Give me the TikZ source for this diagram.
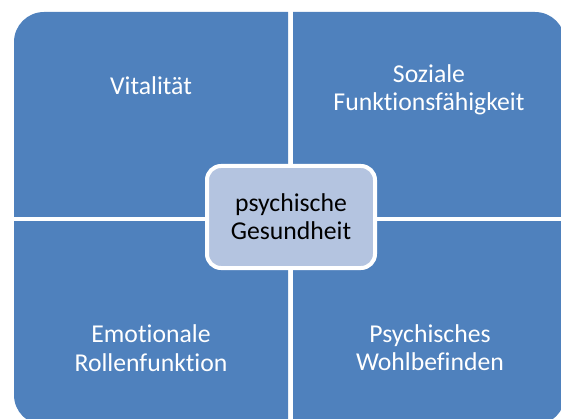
\documentclass[tikz,border=0pt]{standalone}
\usepackage{fontspec}
\setmainfont[Ligatures=NoCommon]{Carlito}
\definecolor{tileblue}{HTML}{4F81BD}
\definecolor{coreblue}{HTML}{B4C4E0}
\begin{document}
\begin{tikzpicture}[x=1pt,y=-1pt,
  tile/.style={fill=tileblue},
  tiletext/.style={text=white,align=center,inner sep=0pt,
    font=\fontsize{25.7}{28.3}\selectfont},
  corebox/.style={draw=white,line width=4pt,fill=coreblue,rounded corners=14pt,
    minimum width=168pt,minimum height=102pt,inner sep=0pt,align=center,
    text=black,font=\fontsize{25.7}{28.3}\selectfont}]
\useasboundingbox (0,0) rectangle (561,419);
% four quadrants cut from one large rounded rectangle
\foreach \xa/\ya/\xb/\yb in {0/0/288/217, 293/0/561/217, 0/222/288/419, 293/222/561/419}{
  \begin{scope}
    \clip (\xa,\ya) rectangle (\xb,\yb);
    \fill[tile,rounded corners=30pt] (14,12) rectangle (565,425);
  \end{scope}
}
% quadrant labels
\node[tiletext] (vital) at (151,85.8) {Vitalität};
\node[tiletext] (sozial) at (429,89.8) {Soziale\\Funktionsfähigkeit};
\node[tiletext] (emot) at (151,348.2) {Emotionale\\Rollenfunktion};
\node[tiletext] (wohl) at (430,347.6) {Psychisches\\Wohlbefinden};
% central box
\node[corebox] (core) at (291,217) {psychische\\Gesundheit};
\end{tikzpicture}
\end{document}
